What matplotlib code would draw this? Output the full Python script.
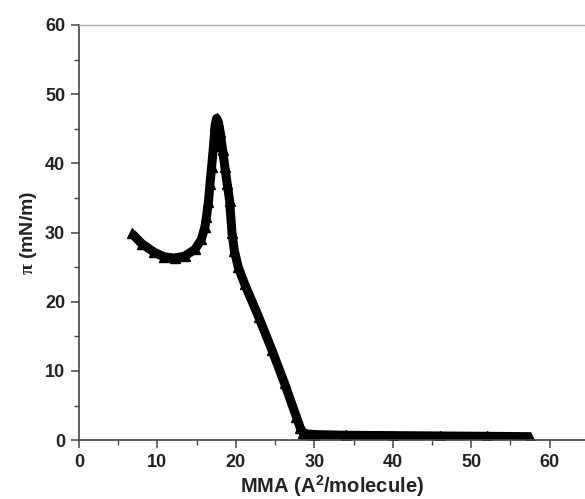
import matplotlib
matplotlib.use('Agg')
import matplotlib.pyplot as plt
from matplotlib.ticker import MultipleLocator

# surface pressure isotherm (compression order)
mma = [57.5, 52, 46, 40, 34, 30, 29.0, 28.6, 28.2, 27.7, 26.2, 24.6, 22.9,
       21.1, 20.3, 19.8, 19.5, 19.2, 18.9, 18.6, 18.3, 18.0, 17.75, 17.55,
       17.35, 17.15, 16.9, 16.7, 16.5, 16.25, 16.05, 15.6, 14.8, 13.5, 12.2,
       10.8, 9.5, 8.0, 6.7]
surf_p = [0.5, 0.55, 0.6, 0.65, 0.7, 0.8, 0.9, 1.0, 1.8, 3.4, 8.2, 13.0, 17.8,
          22.6, 25.0, 27.4, 30.0, 34.6, 37.0, 39.4, 42.0, 44.5, 46.0, 46.5,
          45.5, 42.5, 39.4, 37.0, 34.4, 32.3, 30.8, 29.0, 27.6, 26.6, 26.3,
          26.5, 27.2, 28.4, 29.9]

x_ticks = [0, 10, 20, 30, 40, 50, 60]
y_ticks = [0, 10, 20, 30, 40, 50, 60]

plt.rcParams['font.family'] = ['Liberation Sans', 'DejaVu Sans']
plt.rcParams['font.weight'] = 'bold'
plt.rcParams['mathtext.fontset'] = 'custom'
plt.rcParams['mathtext.rm'] = 'Liberation Sans:bold'
plt.rcParams['mathtext.bf'] = 'Liberation Sans:bold'
plt.rcParams['mathtext.it'] = 'Liberation Serif'

fig = plt.figure(figsize=(5.85, 4.99), dpi=100)
ax = fig.add_axes([0.135, 0.118, 0.865, 0.832])

# thick line plus triangle markers
ax.plot(mma, surf_p, '-', color='black', lw=6.5, solid_capstyle='butt',
        solid_joinstyle='round')
ax.plot(mma, surf_p, '^', color='black', ms=7)

ax.set_xlim(0, 64.5)
ax.set_ylim(0, 60)
ax.set_xticks(x_ticks)
ax.set_yticks(y_ticks)
ax.xaxis.set_minor_locator(MultipleLocator(5))
ax.yaxis.set_minor_locator(MultipleLocator(5))

for side in ['left', 'bottom']:
    ax.spines[side].set_color('#444444')
    ax.spines[side].set_linewidth(1.2)
ax.spines['top'].set_color('#aaaaaa')
ax.spines['top'].set_linewidth(1.0)
ax.spines['right'].set_visible(False)

ax.tick_params(which='major', direction='out', length=6, width=1.1,
               color='#444444', labelsize=13, pad=4)
ax.tick_params(which='minor', direction='out', length=3.5, width=1.0,
               color='#444444')
ax.tick_params(top=False, right=False, which='both')
for lbl in ax.get_xticklabels() + ax.get_yticklabels():
    lbl.set_fontweight('bold')
    lbl.set_color('#222222')

ax.set_xlabel(r'MMA (A$^{2}$/molecule)', fontsize=14.5, fontweight='bold',
              labelpad=2, color='#222222')
ax.set_ylabel(r'$\pi$ (mN/m)', fontsize=14, fontweight='bold', labelpad=4,
              color='#222222')

fig.savefig('out.png', dpi=100)
